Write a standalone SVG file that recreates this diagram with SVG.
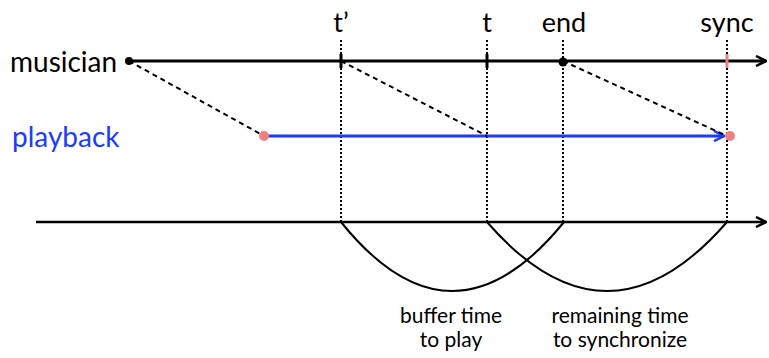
<svg xmlns="http://www.w3.org/2000/svg" width="769" height="358" viewBox="0 0 769 358">
<style>
text{font-family:Lato,"Open Sans","Liberation Sans",sans-serif;fill:#000}
.lbl{font-size:28px}
.top{font-size:27px;text-anchor:middle}
.bot{font-size:21px;text-anchor:middle}
.dot{stroke:#000;stroke-width:2;stroke-dasharray:2,2;fill:none}
.dash{stroke:#000;stroke-width:2;stroke-dasharray:5,4;fill:none}
.arc{stroke:#000;stroke-width:2;fill:none}
</style>
<defs>
<marker id="ab" viewBox="0 0 12 12" refX="11" refY="6" markerWidth="12" markerHeight="12" markerUnits="userSpaceOnUse" orient="auto"><path d="M1,1 L11,6 L1,11" fill="none" stroke="#000" stroke-width="2.5"/></marker>
<marker id="abl" viewBox="0 0 12 12" refX="11" refY="6" markerWidth="12" markerHeight="12" markerUnits="userSpaceOnUse" orient="auto"><path d="M1,1 L11,6 L1,11" fill="none" stroke="#1a3cff" stroke-width="2.5"/></marker>
</defs>
<g id="labels">
<text class="lbl" x="10" y="72">musician</text>
<text class="lbl" x="12" y="147" style="fill:#1a3cff">playback</text>
<text class="top" x="341" y="32">t’</text>
<text class="top" x="487" y="32">t</text>
<text class="top" x="564" y="32">end</text>
<text class="top" x="727" y="32">sync</text>
<text class="bot" x="451" y="323">buffer time</text>
<text class="bot" x="451" y="347">to play</text>
<text class="bot" x="620" y="323">remaining time</text>
<text class="bot" x="620" y="347">to synchronize</text>
</g>
<g id="connectors">
<line class="dot" x1="341" y1="40" x2="341" y2="222"/>
<line class="dot" x1="487" y1="40" x2="487" y2="222"/>
<line class="dot" x1="563" y1="40" x2="563" y2="222"/>
<line class="dot" x1="727" y1="40" x2="727" y2="222"/>
<line x1="129" y1="61" x2="766" y2="61" stroke="#000" stroke-width="3" marker-end="url(#ab)"/>
<line x1="264" y1="136" x2="724" y2="136" stroke="#1a3cff" stroke-width="3" marker-end="url(#abl)"/>
<line x1="36" y1="222" x2="766" y2="222" stroke="#000" stroke-width="2.5" marker-end="url(#ab)"/>
<line class="dash" x1="129" y1="61" x2="264" y2="136"/>
<line class="dash" x1="341" y1="61" x2="487" y2="136"/>
<line class="dash" x1="563" y1="61" x2="727" y2="136"/>
<path class="arc" d="M341,222 Q452,360 564,222"/>
<path class="arc" d="M487,222 Q607,360 727,222"/>
</g>
<g id="markers">
<circle cx="129" cy="61" r="4" fill="#000"/>
<line x1="341" y1="54" x2="341" y2="68" stroke="#000" stroke-width="3"/>
<line x1="487" y1="54" x2="487" y2="68" stroke="#000" stroke-width="3"/>
<circle cx="563" cy="62" r="4.5" fill="#000"/>
<line x1="727" y1="54" x2="727" y2="68" stroke="#f08080" stroke-width="3"/>
<circle cx="264" cy="136" r="5" fill="#f08080"/>
<circle cx="730" cy="136" r="5" fill="#f08080"/>
</g>
</svg>
